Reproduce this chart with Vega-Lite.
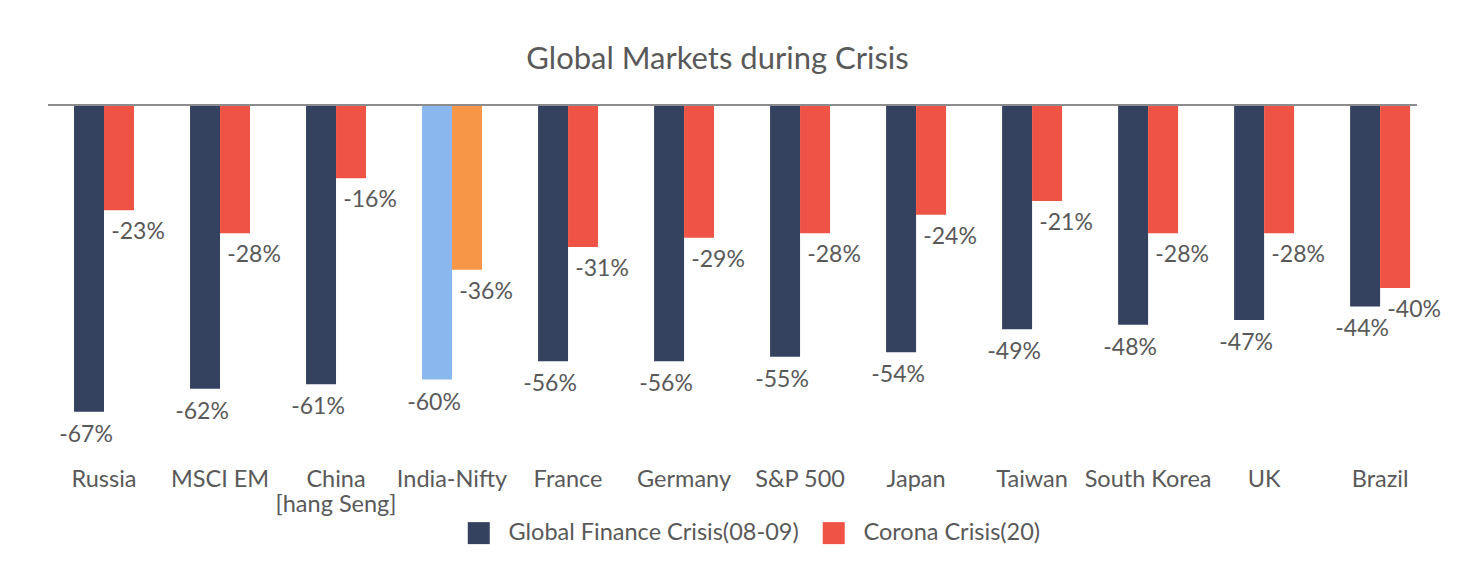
{
  "$schema": "https://vega.github.io/schema/vega-lite/v6.json",
  "width": 1369,
  "height": 357,
  "autosize": {"type": "none"},
  "padding": {"left": 48, "top": 105, "right": 57, "bottom": 101},
  "background": "white",
  "title": {"text": "Global Markets during Crisis", "fontSize": 31, "font": "Lato", "fontWeight": "normal", "color": "#595959", "anchor": "middle", "offset": 28, "dx": -15},
  "config": {
    "view": {"stroke": null},
    "font": "Lato",
    "locale": {"number": {"decimal": ".", "thousands": ",", "grouping": [3], "currency": ["$", ""], "minus": "-"}}
  },
  "data": {
    "values": [
      {"country": "Russia", "series": "Global Finance Crisis(08-09)", "value": -0.67},
      {"country": "Russia", "series": "Corona Crisis(20)", "value": -0.23},
      {"country": "MSCI EM", "series": "Global Finance Crisis(08-09)", "value": -0.62},
      {"country": "MSCI EM", "series": "Corona Crisis(20)", "value": -0.28},
      {"country": "China [hang Seng]", "series": "Global Finance Crisis(08-09)", "value": -0.61},
      {"country": "China [hang Seng]", "series": "Corona Crisis(20)", "value": -0.16},
      {"country": "India-Nifty", "series": "Global Finance Crisis(08-09)", "value": -0.60},
      {"country": "India-Nifty", "series": "Corona Crisis(20)", "value": -0.36},
      {"country": "France", "series": "Global Finance Crisis(08-09)", "value": -0.56},
      {"country": "France", "series": "Corona Crisis(20)", "value": -0.31},
      {"country": "Germany", "series": "Global Finance Crisis(08-09)", "value": -0.56},
      {"country": "Germany", "series": "Corona Crisis(20)", "value": -0.29},
      {"country": "S&P 500", "series": "Global Finance Crisis(08-09)", "value": -0.55},
      {"country": "S&P 500", "series": "Corona Crisis(20)", "value": -0.28},
      {"country": "Japan", "series": "Global Finance Crisis(08-09)", "value": -0.54},
      {"country": "Japan", "series": "Corona Crisis(20)", "value": -0.24},
      {"country": "Taiwan", "series": "Global Finance Crisis(08-09)", "value": -0.49},
      {"country": "Taiwan", "series": "Corona Crisis(20)", "value": -0.21},
      {"country": "South Korea", "series": "Global Finance Crisis(08-09)", "value": -0.48},
      {"country": "South Korea", "series": "Corona Crisis(20)", "value": -0.28},
      {"country": "UK", "series": "Global Finance Crisis(08-09)", "value": -0.47},
      {"country": "UK", "series": "Corona Crisis(20)", "value": -0.28},
      {"country": "Brazil", "series": "Global Finance Crisis(08-09)", "value": -0.44},
      {"country": "Brazil", "series": "Corona Crisis(20)", "value": -0.40}
    ]
  },
  "encoding": {
    "x": {
      "field": "country", "type": "nominal", "sort": null,
      "scale": {"paddingInner": 0.483, "paddingOuter": 0.142, "align": 0.79},
      "axis": {"orient": "bottom", "domain": false, "ticks": false, "title": null, "labelAngle": 0, "labelFontSize": 23.5, "labelColor": "#595959", "labelFont": "Lato", "labelPadding": 5, "labelLineHeight": 25, "labelLimit": 0,
        "labelExpr": "datum.value == 'China [hang Seng]' ? ['China', '[hang Seng]'] : datum.value"}
    },
    "xOffset": {"field": "series", "type": "nominal", "sort": ["Global Finance Crisis(08-09)", "Corona Crisis(20)"], "scale": {"paddingInner": 0, "paddingOuter": 0}},
    "y": {"field": "value", "type": "quantitative", "scale": {"domain": [-0.78, 0], "nice": false}, "axis": null}
  },
  "layer": [
    {
      "mark": {"type": "bar"},
      "encoding": {
        "color": {
          "field": "series", "type": "nominal",
          "scale": {"domain": ["Global Finance Crisis(08-09)", "Corona Crisis(20)"], "range": ["#35425F", "#EF5345"]},
          "condition": [
            {"test": "datum.country == 'India-Nifty' && datum.series == 'Global Finance Crisis(08-09)'", "value": "#8AB8EE"},
            {"test": "datum.country == 'India-Nifty' && datum.series == 'Corona Crisis(20)'", "value": "#F79646"}
          ],
          "legend": {"orient": "none", "legendX": 419, "legendY": 416, "direction": "horizontal", "title": null, "symbolType": "square", "symbolSize": 484, "symbolStrokeWidth": 0, "labelFontSize": 23.5, "labelFont": "Lato", "labelColor": "#595959", "labelLimit": 0, "columnPadding": 23, "labelOffset": 18}
        }
      }
    },
    {
      "transform": [{"filter": "datum.series == 'Global Finance Crisis(08-09)'"}],
      "mark": {"type": "text", "fontSize": 23, "color": "#595959", "baseline": "middle", "dy": 23, "dx": -3},
      "encoding": {"text": {"field": "value", "type": "quantitative", "format": ".0%"}}
    },
    {
      "transform": [{"filter": "datum.series == 'Corona Crisis(20)'"}],
      "mark": {"type": "text", "fontSize": 23, "color": "#595959", "baseline": "middle", "dy": 22, "dx": 19},
      "encoding": {"text": {"field": "value", "type": "quantitative", "format": ".0%"}}
    },
    {
      "data": {"values": [{"z": 0}]},
      "mark": {"type": "rule", "color": "#8C8C8C", "strokeWidth": 2},
      "encoding": {"x": null, "xOffset": null, "y": {"field": "z", "type": "quantitative"}}
    }
  ]
}
